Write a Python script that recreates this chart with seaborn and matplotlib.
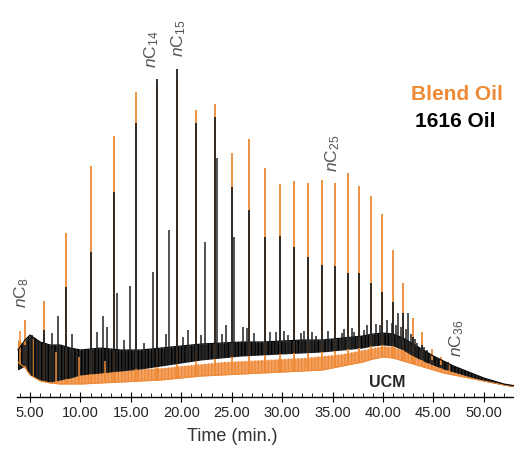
import numpy as np
import seaborn as sns
import matplotlib.pyplot as plt

# retention times (min) of the n-alkane peaks, nC8 ... nC35
nalk_t = [4.5, 6.4, 8.6, 11.0, 13.3, 15.5, 17.6, 19.6, 21.5, 23.3, 25.0, 26.7, 28.3, 29.8,
          31.2, 32.6, 34.0, 35.2, 36.5, 37.6, 38.8, 39.9, 41.0, 42.0, 43.0, 43.9, 44.9, 45.8]
blend_top = [77, 96, 164, 231, 261, 305, 312, 317, 287, 293, 244, 258, 229, 213,
             216, 214, 217, 214, 224, 211, 201, 183, 147, 114, 79, 65, 48, 40]
oil1616_top = [52, 67, 110, 145, 205, 274, 318, 328, 274, 280, 210, 187, 160, 161,
               150, 140, 132, 131, 124, 124, 114, 105, 95, 84, 60, 52, 37, 32]

# smaller peaks in the 1616 oil trace
minor_t = [5.2, 5.8, 7.2, 7.8, 9.2, 11.6, 12.2, 12.6, 13.6, 14.3, 14.9, 16.3, 17.2, 18.5,
           18.8, 20.7, 22.4, 23.5, 24.4, 25.2, 26.1, 26.5, 29.4, 30.6, 31.9, 33.4, 35.9,
           37.1, 38.1, 39.7, 40.4, 41.5, 42.5, 43.4, 44.4, 45.4, 46.5,
           20.2, 22.0, 24.0, 27.2, 28.8, 30.2, 32.2, 33.0, 34.6, 36.1, 36.9, 38.4, 39.3,
           40.9, 41.3, 41.8, 42.3, 42.8, 43.2, 44.1]
minor_top = [62, 57, 64, 81, 63, 65, 81, 70, 104, 57, 111, 54, 125, 63, 167, 67, 155, 239,
             72, 160, 70, 69, 65, 62, 64, 61, 64, 65, 67, 72, 77, 84, 84, 54, 47, 39, 35,
             60, 62, 63, 64, 65, 66, 66, 65, 66, 68, 69, 72, 73,
             74, 72, 70, 68, 63, 58, 50]

# smaller peaks in the blend oil trace
bminor_t = [4.0, 5.3, 7.6, 9.9, 12.4, 46.6]
bminor_top = [66, 58, 45, 40, 36, 34]

# baseline / UCM hump, noise band (upper and lower edge)
base_t = [3.8, 4.5, 5, 6, 7, 8, 9, 10, 12, 14, 16, 18, 20, 22, 24, 26, 28, 30, 32, 34,
          36, 38, 39, 40, 41, 42, 43, 44, 45, 46, 47, 48, 49, 50, 51, 52, 53.2]
black_hi = [47, 57, 62, 55, 52, 52, 49, 47, 49, 47, 47, 49, 51, 53, 54, 55, 55, 56, 57, 57,
            59, 61, 63, 64, 63, 59, 53, 47, 41, 36, 31, 27, 23, 19, 16, 13, 11]
black_lo = [27, 31, 22, 17, 15, 17, 19, 22, 24, 26, 28, 31, 34, 37, 39, 41, 42, 43, 44, 45,
            47, 49, 51, 52, 51, 47, 41, 36, 32, 28, 25, 22, 19, 16, 14, 12, 10]
orange_hi = [57, 52, 42, 35, 32, 30, 29, 27, 27, 27, 28, 29, 31, 33, 35, 36, 37, 38, 39, 41,
             43, 47, 49, 51, 50, 47, 42, 37, 33, 30, 27, 24, 21, 18, 15, 13, 11]
orange_lo = [35, 29, 22, 16, 14, 13, 13, 13, 14, 15, 16, 17, 19, 21, 22, 23, 24, 25, 26, 27,
             31, 35, 38, 40, 39, 36, 33, 30, 27, 24, 22, 20, 18, 16, 14, 12, 10]

labels = [('8', 4.2, 89), ('14', 17.1, 329), ('15', 19.7, 340), ('25', 35.0, 225), ('36', 47.3, 40)]

ORANGE = '#EE8A35'
GRAY = '#555555'

sns.set_style('white')
plt.rcParams['font.family'] = ['Liberation Sans', 'DejaVu Sans']
plt.rcParams['mathtext.fontset'] = 'custom'
plt.rcParams['mathtext.rm'] = 'Liberation Sans'
plt.rcParams['mathtext.it'] = 'Liberation Sans:italic'
plt.rcParams['hatch.linewidth'] = 1.0

fig = plt.figure(figsize=(5.14, 4.5), dpi=100)
ax = fig.add_axes([0.033, 0.1178, 0.967, 0.771])

# blend oil (drawn underneath)
ax.fill_between(base_t, orange_lo, orange_hi, color='#F3A263', lw=0)
ax.fill_between(base_t, orange_lo, orange_hi, facecolor='none', edgecolor=ORANGE, hatch='|||||', lw=0)
sns.lineplot(x=base_t, y=orange_lo, color=ORANGE, lw=0.8, ax=ax)
ax.vlines(bminor_t, np.interp(bminor_t, base_t, orange_lo), bminor_top, color=ORANGE, lw=1.1)
ax.vlines(nalk_t, np.interp(nalk_t, base_t, orange_lo), blend_top, color=ORANGE, lw=1.3)

# 1616 oil
ax.fill_between(base_t, black_lo, black_hi, color='#2a2a2a', lw=0)
ax.fill_between(base_t, black_lo, black_hi, facecolor='none', edgecolor='black', hatch='|||||', lw=0)
sns.lineplot(x=base_t, y=black_hi, color='black', lw=0.8, ax=ax)
ax.vlines(minor_t, np.interp(minor_t, base_t, black_lo), minor_top, color='#222222', lw=1.1)
ax.vlines(nalk_t, np.interp(nalk_t, base_t, black_lo), oil1616_top, color='#222222', lw=1.3)

for num, t, y in labels:
    ax.text(t, y, r'$\mathit{n}$C$_{%s}$' % num, rotation=90, ha='center', va='bottom',
            fontsize=12.5, color=GRAY, clip_on=False)

ax.text(40.4, 14, 'UCM', ha='center', va='center', fontsize=11.5, fontweight='bold')
fig.text(0.889, 0.789, 'Blend Oil', ha='center', va='center', fontsize=15, fontweight='bold', color=ORANGE)
fig.text(0.886, 0.731, '1616 Oil', ha='center', va='center', fontsize=15, fontweight='bold', color='black')

ax.set_xlim(3.7, 53.0)
ax.set_ylim(0, 347)
ax.set_xticks(np.arange(5, 51, 5))
ax.set_xticklabels(['%.2f' % v for v in np.arange(5, 51, 5)], fontsize=10.5)
ax.set_xticks(np.arange(4, 54, 1), minor=True)
ax.set_yticks([])
ax.tick_params(axis='x', which='major', direction='inout', length=7, width=0.8, color='black', pad=3, bottom=True)
ax.tick_params(axis='x', which='minor', direction='in', length=3, width=0.6, color='black', bottom=True)
for s in ['top', 'left', 'right']:
    ax.spines[s].set_visible(False)
ax.spines['bottom'].set_color('black')
ax.spines['bottom'].set_linewidth(1.0)
ax.set_xlabel('Time (min.)', fontsize=13, color='#333333')
ax.xaxis.set_label_coords(0.433, -0.09)

plt.savefig('out.png', dpi=100)
